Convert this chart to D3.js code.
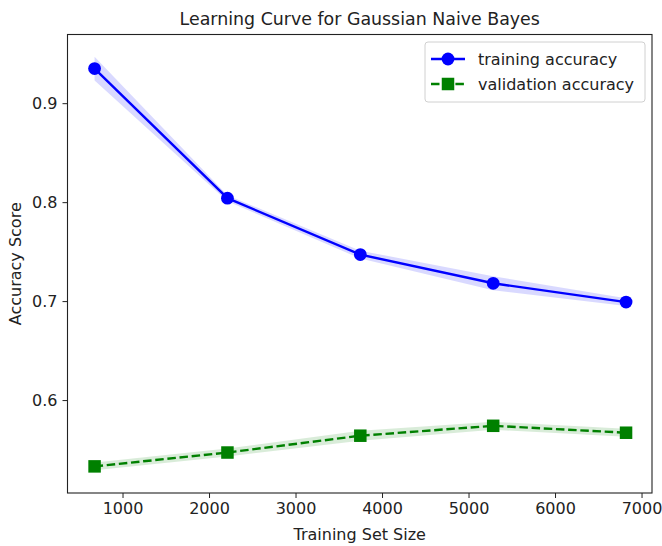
<!DOCTYPE html>
<html>
<head>
<meta charset="utf-8">
<script src="https://cdn.jsdelivr.net/npm/d3@7"></script>
<style>
  html, body { margin: 0; padding: 0; background: #fff; }
  svg { display: block; font-family: "DejaVu Sans", sans-serif; }
</style>
</head>
<body>
<svg id="chart" width="662" height="546"></svg>
<script>
// Training set sizes used at each step of the learning curve
const trainSizes = [677, 2213, 3749, 5285, 6821];

// Mean scores and their standard deviations
const trainMean = [0.935, 0.804, 0.747, 0.718, 0.699];
const trainStd  = [0.012, 0.003, 0.004, 0.007, 0.004];
const validMean = [0.533, 0.547, 0.564, 0.574, 0.567];
const validStd  = [0.004, 0.004, 0.005, 0.004, 0.004];

const xTicks = [1000, 2000, 3000, 4000, 5000, 6000, 7000];
const yTicks = [0.6, 0.7, 0.8, 0.9];

const seriesNames = ["training accuracy", "validation accuracy"];

const svg = d3.select("#chart");
const margin = { left: 67.5, right: 10, top: 34.5, bottom: 53 };
const W = 662, H = 546;
const x0 = margin.left, x1 = W - margin.right;
const y0 = margin.top,  y1 = H - margin.bottom;

const x = d3.scaleLinear().domain([364, 7121]).range([x0, x1]);
const y = d3.scaleLinear().domain([0.5061, 0.9694]).range([y1, y0]);

const fontSize = 16;

// Title
svg.append("text")
  .attr("x", (x0 + x1) / 2).attr("y", y0 - 10)
  .attr("text-anchor", "middle")
  .attr("font-size", 17.4)
  .attr("fill", "#222")
  .text("Learning Curve for Gaussian Naive Bayes");

const plot = svg.append("g");

function bandArea(mean, std) {
  return d3.area()
    .x((d, i) => x(trainSizes[i]))
    .y0((d, i) => y(mean[i] - std[i]))
    .y1((d, i) => y(mean[i] + std[i]))(mean);
}
function linePath(mean) {
  return d3.line().x((d, i) => x(trainSizes[i])).y(d => y(d))(mean);
}

// Std bands
plot.append("path").attr("d", bandArea(trainMean, trainStd))
  .attr("fill", "blue").attr("fill-opacity", 0.15);
plot.append("path").attr("d", bandArea(validMean, validStd))
  .attr("fill", "green").attr("fill-opacity", 0.15);

// Training curve
plot.append("path").attr("d", linePath(trainMean))
  .attr("fill", "none").attr("stroke", "blue").attr("stroke-width", 2.4);
plot.selectAll(".tm").data(trainMean).join("circle")
  .attr("cx", (d, i) => x(trainSizes[i])).attr("cy", d => y(d))
  .attr("r", 6.4).attr("fill", "blue");

// Validation curve
plot.append("path").attr("d", linePath(validMean))
  .attr("fill", "none").attr("stroke", "green").attr("stroke-width", 2.4)
  .attr("stroke-dasharray", "8.5,3.7");
const sq = 12.5;
plot.selectAll(".vm").data(validMean).join("rect")
  .attr("x", (d, i) => x(trainSizes[i]) - sq / 2).attr("y", d => y(d) - sq / 2)
  .attr("width", sq).attr("height", sq).attr("fill", "green");

// Axes
const xAxis = d3.axisBottom(x).tickValues(xTicks).tickSize(5).tickPadding(5)
  .tickFormat(d3.format("d"));
const yAxis = d3.axisLeft(y).tickValues(yTicks).tickSize(5).tickPadding(5)
  .tickFormat(d3.format(".1f"));

const gx = svg.append("g").attr("transform", `translate(0,${y1})`).call(xAxis);
const gy = svg.append("g").attr("transform", `translate(${x0},0)`).call(yAxis);
[gx, gy].forEach(g => {
  g.select(".domain").remove();
  g.selectAll(".tick line").attr("stroke", "#222").attr("stroke-width", 1);
  g.selectAll(".tick text").attr("font-size", fontSize).attr("fill", "#222")
    .attr("font-family", "DejaVu Sans, sans-serif");
});

// Frame
svg.append("rect")
  .attr("x", x0).attr("y", y0).attr("width", x1 - x0).attr("height", y1 - y0)
  .attr("fill", "none").attr("stroke", "#222").attr("stroke-width", 1.1);

// Axis labels
svg.append("text")
  .attr("x", (x0 + x1) / 2).attr("y", H - 6)
  .attr("text-anchor", "middle").attr("font-size", fontSize).attr("fill", "#222")
  .text("Training Set Size");
svg.append("text")
  .attr("transform", `translate(21,${(y0 + y1) / 2}) rotate(-90)`)
  .attr("text-anchor", "middle").attr("font-size", fontSize).attr("fill", "#222")
  .text("Accuracy Score");

// Legend
const lg = svg.append("g").attr("transform", "translate(425,42)");
lg.append("rect").attr("width", 220).attr("height", 60).attr("rx", 3)
  .attr("fill", "#fff").attr("fill-opacity", 0.8)
  .attr("stroke", "#d0d0d0").attr("stroke-width", 1);
const entries = [
  { name: seriesNames[0], color: "blue", dash: null, marker: "circle" },
  { name: seriesNames[1], color: "green", dash: "8.5,3.7", marker: "square" }
];
entries.forEach((e, i) => {
  const cy = 17 + i * 25;
  lg.append("line").attr("x1", 6).attr("x2", 40).attr("y1", cy).attr("y2", cy)
    .attr("stroke", e.color).attr("stroke-width", 2.4)
    .attr("stroke-dasharray", e.dash);
  if (e.marker === "circle") {
    lg.append("circle").attr("cx", 23).attr("cy", cy).attr("r", 6.4).attr("fill", e.color);
  } else {
    lg.append("rect").attr("x", 23 - sq / 2).attr("y", cy - sq / 2)
      .attr("width", sq).attr("height", sq).attr("fill", e.color);
  }
  lg.append("text").attr("x", 53).attr("y", cy).attr("dy", "0.35em")
    .attr("font-size", fontSize).attr("fill", "#222").text(e.name);
});
</script>
</body>
</html>
